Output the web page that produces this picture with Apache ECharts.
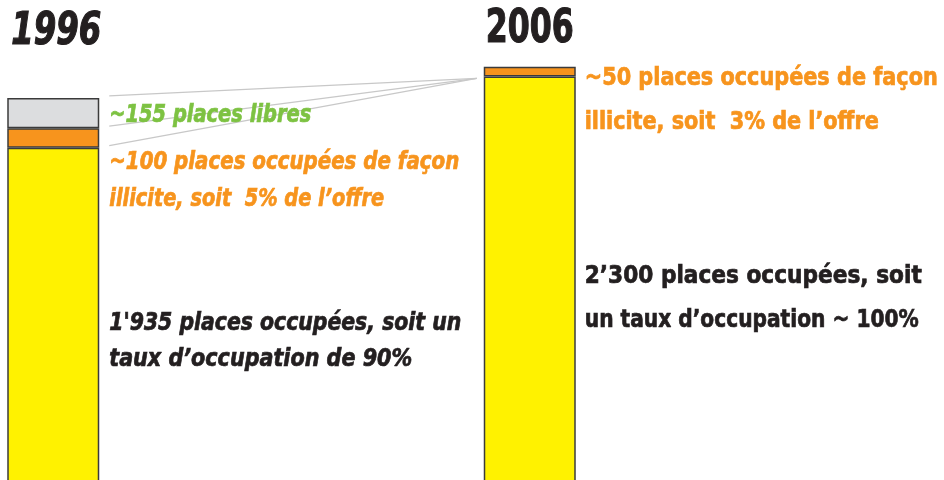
<!DOCTYPE html>
<html>
<head>
<meta charset="utf-8">
<script src="https://cdn.jsdelivr.net/npm/echarts@6/dist/echarts.min.js"></script>
<style>
  html, body { margin: 0; padding: 0; background: #ffffff; }
  #chart { width: 944px; height: 480px; }
</style>
</head>
<body>
<div id="chart"></div>
<script>
// Parking places per year: occupied legally, occupied illicitly, free
const years = ['1996', '2006'];
const occupied = [1935, 2300];
const illicit = [100, 50];
const free = [155, 0];

const FONT = '"Liberation Sans Narrow", "DejaVu Sans Condensed", "Roboto", sans-serif';
const border = { borderColor: '#3b3b3b', borderWidth: 1.5 };

const chart = echarts.init(document.getElementById('chart'));

const option = {
  animation: false,
  backgroundColor: '#ffffff',
  grid: { left: -185, width: 953, top: 0, height: 525, outerBoundsMode: 'none', containLabel: false },
  xAxis: {
    type: 'category',
    data: years,
    show: false
  },
  yAxis: {
    type: 'value',
    min: 0,
    max: 2692,
    show: false
  },
  series: [
    {
      name: 'occupées',
      type: 'bar',
      stack: 'places',
      barWidth: 92,
      data: occupied,
      itemStyle: Object.assign({ color: '#fff200' }, border)
    },
    {
      name: 'illicites',
      type: 'bar',
      stack: 'places',
      barWidth: 92,
      data: illicit,
      itemStyle: Object.assign({ color: '#f7941d' }, border)
    },
    {
      name: 'libres',
      type: 'bar',
      stack: 'places',
      barWidth: 92,
      data: free.map(v => (v > 0 ? v : null)),
      itemStyle: Object.assign({ color: '#dcdddf' }, border)
    }
  ]
};
chart.setOption(option);

// Pixel helpers for the connector lines and annotations
const px = (cat, v) => chart.convertToPixel({ gridIndex: 0 }, [cat, v]);
const half = 46;
const x96 = px(0, 0)[0];
const x06 = px(1, 0)[0];

const lineStyle = { stroke: '#c8c8c8', lineWidth: 1.3 };
const connectorStarts = [
  occupied[0] + illicit[0] + free[0],
  occupied[0] + illicit[0],
  occupied[0]
];
const endPt = [x06 - half - 7, px(1, occupied[1])[1] + 2];
const connectors = connectorStarts.map(v => ({
  type: 'line',
  shape: { x1: x96 + half + 10, y1: px(0, v)[1] - 2, x2: endPt[0], y2: endPt[1] },
  style: lineStyle,
  z: 1
}));

// Condensed heavy lettering: squeeze each line horizontally to its set width
const measureCtx = document.createElement('canvas').getContext('2d');
function label(text, x, y, color, size, italic, width, weight) {
  const font = (italic ? 'italic ' : '') + 'bold ' + size + 'px ' + FONT;
  measureCtx.font = font;
  const natural = measureCtx.measureText(text).width;
  return {
    type: 'text',
    x: x,
    y: y,
    scaleX: width / natural,
    z: 5,
    style: {
      text: text,
      fill: color,
      stroke: color,
      lineWidth: weight,
      font: font,
      textVerticalAlign: 'middle',
      textAlign: 'left'
    }
  };
}

const green = '#7dc242';
const orange = '#f7941d';
const dark = '#231f20';
const tx96 = x96 + half + 10;
const tx06 = x06 + half + 9;

chart.setOption({
  graphic: connectors.concat([
    label('1996', x96 - half + 4, 32, dark, 45, true, 90, 1.2),
    label('2006', x06 - half + 2, 30, dark, 46, false, 88, 1.2),
    label('~155 places libres', tx96, 115, green, 25, true, 202, 0.7),
    label('~100 places occupées de façon', tx96, 162, orange, 25, true, 350, 0.7),
    label('illicite, soit  5% de l\u2019offre', tx96, 199, orange, 25, true, 275, 0.7),
    label('1\'935 places occupées, soit un', tx96, 323, dark, 25, true, 352, 0.7),
    label('taux d\u2019occupation de 90%', tx96, 359, dark, 25, true, 303, 0.7),
    label('~50 places occupées de façon', tx06, 78, orange, 25, false, 353, 0.7),
    label('illicite, soit  3% de l\u2019offre', tx06, 122, orange, 25, false, 294, 0.7),
    label('2\u2019300 places occupées, soit', tx06, 276, dark, 25, false, 337, 0.7),
    label('un taux d\u2019occupation ~ 100%', tx06, 320, dark, 25, false, 334, 0.7)
  ])
});
</script>
</body>
</html>
